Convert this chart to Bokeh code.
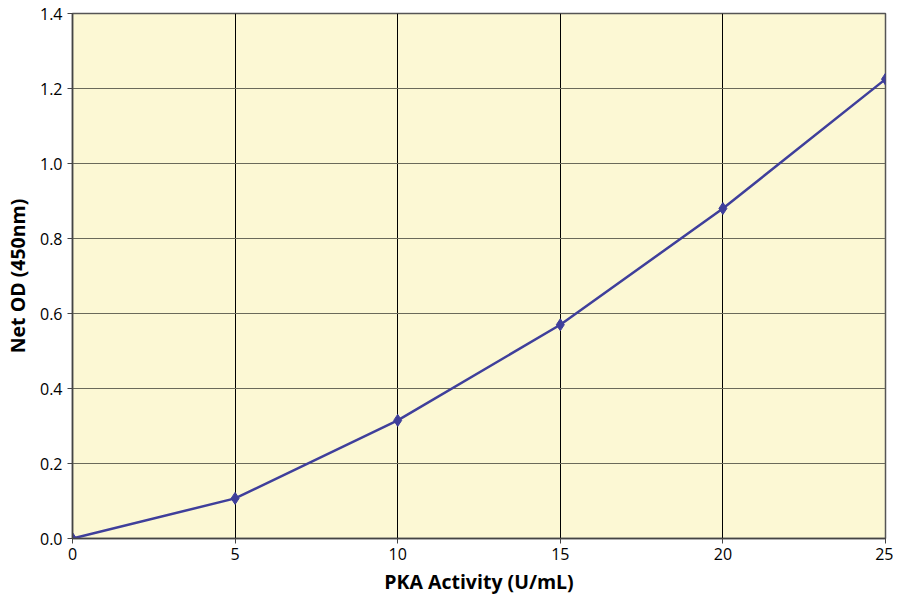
from bokeh.plotting import figure
from bokeh.models import Range1d, FixedTicker, PrintfTickFormatter
from bokeh.embed import file_html
from bokeh.resources import INLINE

activity = [0, 5, 10, 15, 20, 25]
net_od = [0.0, 0.107, 0.315, 0.570, 0.880, 1.225]
x_ticks = [0, 5, 10, 15, 20, 25]
y_ticks = [0.0, 0.2, 0.4, 0.6, 0.8, 1.0, 1.2, 1.4]

FONT = "Open Sans"
LINE = "#3F3F9B"

p = figure(width=893, height=597, output_backend="svg", toolbar_location=None,
           x_range=Range1d(0, 25), y_range=Range1d(0, 1.4),
           min_border_left=72, min_border_top=13, min_border_right=8, min_border_bottom=55)
p.background_fill_color = "#FCF8D4"
p.border_fill_color = "white"
p.outline_line_color = "#555555"
p.outline_line_width = 1.5

p.xgrid.grid_line_color = "black"
p.xgrid.grid_line_width = 1
p.ygrid.grid_line_color = "#6a6a5a"
p.ygrid.grid_line_width = 1

p.xaxis.ticker = FixedTicker(ticks=x_ticks)
p.yaxis.ticker = FixedTicker(ticks=y_ticks)
p.yaxis.formatter = PrintfTickFormatter(format="%.1f")

for ax in (p.xaxis, p.yaxis):
    ax.axis_line_color = "#444444"
    ax.axis_line_width = 1.5
    ax.major_label_text_font = FONT
    ax.major_label_text_font_size = "16px"
    ax.major_label_text_color = "black"
    ax.axis_label_text_font = FONT
    ax.axis_label_text_font_style = "bold"
    ax.axis_label_text_font_size = "19.5px"
    ax.axis_label_text_color = "black"
    ax.minor_tick_line_color = None
    ax.major_tick_line_color = "#444444"
    ax.major_tick_in = 0
    ax.major_tick_out = 5

p.xaxis.major_label_standoff = 4
p.yaxis.major_label_standoff = 5

p.xaxis.axis_label = "PKA Activity (U/mL)"
p.yaxis.axis_label = "Net OD (450nm)"
p.xaxis.axis_label_standoff = 5
p.yaxis.axis_label_standoff = 6

p.line(activity, net_od, line_color=LINE, line_width=2.5)
p.scatter(activity, net_od, marker="diamond", size=12, fill_color=LINE, line_color=LINE)

open("out.html", "w").write(file_html(p, INLINE))
